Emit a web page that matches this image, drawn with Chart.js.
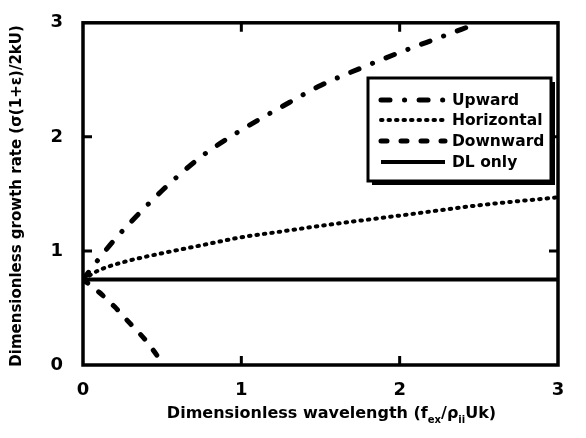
<!DOCTYPE html>
<html>
<head>
<meta charset="utf-8">
<script src="https://cdn.jsdelivr.net/npm/chart.js@4"></script>
<style>
html,body{margin:0;padding:0;background:#fff}
#wrap{width:586px;height:438px}
</style>
</head>
<body>
<div id="wrap"><canvas id="growthChart" width="586" height="438"></canvas></div>
<script>
// series
const upX=[0,0.1,0.2,0.3,0.5,0.75,1.0,1.25,1.5,1.75,2.0,2.25,2.5]
const upY=[0.75,0.93,1.1,1.25,1.53,1.83,2.06,2.26,2.45,2.6,2.74,2.87,3.0]

const horX=[0,0.1,0.25,0.5,0.75,1.0,1.25,1.5,2.0,2.5,3.0]
const horY=[0.75,0.83,0.9,0.98,1.05,1.12,1.17,1.22,1.31,1.4,1.47]

const downX=[0,0.1,0.2,0.3,0.4,0.48]
const downY=[0.75,0.64,0.51,0.36,0.21,0.06]

const dlX=[0,3]
const dlY=[0.75,0.75]

const seriesLabels=["Upward","Horizontal","Downward","DL only"]
const tickValues=[0,1,2,3]

const xTitle=["Dimensionless wavelength (f",{sub:"ex"},"/ρ",{sub:"ii"},"Uk)"]
const yTitle="Dimensionless growth rate (σ(1+ε)/2kU)"

function pts(xs,ys){
return xs.map((x,i)=>({x:x,y:ys[i]}))
}

const FONT="'DejaVu Sans', 'Liberation Sans', sans-serif"

// frame, inward ticks, axis titles, legend box
const decor={
id:"decor",
afterDraw(chart){
const ctx=chart.ctx
const a=chart.chartArea
const xs=chart.scales.x
const ys=chart.scales.y
ctx.save()
ctx.strokeStyle="#000"
ctx.setLineDash([])
ctx.lineWidth=3.5
ctx.strokeRect(a.left,a.top,a.right-a.left,a.bottom-a.top)

// inner ticks
ctx.lineWidth=3
ctx.beginPath()
for(const v of [1,2]){
let px=xs.getPixelForValue(v)
ctx.moveTo(px,a.bottom);ctx.lineTo(px,a.bottom-9)
ctx.moveTo(px,a.top);ctx.lineTo(px,a.top+9)
let py=ys.getPixelForValue(v)
ctx.moveTo(a.left,py);ctx.lineTo(a.left+9,py)
ctx.moveTo(a.right,py);ctx.lineTo(a.right-9,py)
}
ctx.stroke()

// x title with subscripts
ctx.fillStyle="#000"
ctx.textBaseline="alphabetic"
ctx.textAlign="left"
const big="bold 16px "+FONT
const small="bold 10px "+FONT
let w=0
for(const part of xTitle){
ctx.font=typeof part==="string"?big:small
w+=ctx.measureText(typeof part==="string"?part:part.sub).width
}
let cx=(a.left+a.right)/2-w/2+11
const base=418
for(const part of xTitle){
if(typeof part==="string"){
ctx.font=big
ctx.fillText(part,cx,base)
cx+=ctx.measureText(part).width
}else{
ctx.font=small
ctx.fillText(part.sub,cx,base+5)
cx+=ctx.measureText(part.sub).width
}
}

// y title
ctx.save()
ctx.translate(17,(a.top+a.bottom)/2+2)
ctx.rotate(-Math.PI/2)
ctx.textAlign="center"
ctx.textBaseline="middle"
ctx.font="bold 15px "+FONT
ctx.fillText(yTitle,0,0)
ctx.restore()

// legend
const bx=368,by=78,bw=183,bh=103
ctx.fillStyle="#000"
ctx.fillRect(bx+4,by+4,bw,bh)
ctx.fillStyle="#fff"
ctx.fillRect(bx,by,bw,bh)
ctx.lineWidth=3
ctx.strokeRect(bx,by,bw,bh)

const rowY=[100,120,141,162]
chart.data.datasets.forEach((ds,i)=>{
ctx.strokeStyle="#000"
ctx.lineWidth=ds.borderWidth
ctx.lineCap=ds.borderCapStyle||"butt"
ctx.setLineDash(ds.borderDash||[])
ctx.beginPath()
ctx.moveTo(381,rowY[i])
ctx.lineTo(445,rowY[i])
ctx.stroke()
ctx.setLineDash([])
ctx.fillStyle="#000"
ctx.font="bold 15.5px "+FONT
ctx.textAlign="left"
ctx.textBaseline="middle"
ctx.fillText(ds.label,452,rowY[i]+1)
})
ctx.restore()
}
}

const chartCtx=document.getElementById("growthChart").getContext("2d")

const growthChart=new Chart(chartCtx,{
type:"scatter",
data:{
datasets:[{
label:seriesLabels[0],
data:pts(upX,upY),
showLine:true,
borderColor:"#000",
borderWidth:5,
borderDash:[9,14.5,0.1,14.5],
borderCapStyle:"round",
pointRadius:0,
cubicInterpolationMode:"monotone"
},{
label:seriesLabels[1],
data:pts(horX,horY),
showLine:true,
borderColor:"#000",
borderWidth:4,
borderDash:[1.5,6],
borderCapStyle:"round",
pointRadius:0,
cubicInterpolationMode:"monotone"
},{
label:seriesLabels[2],
data:pts(downX,downY),
showLine:true,
borderColor:"#000",
borderWidth:5,
borderDash:[6,14],
borderCapStyle:"round",
pointRadius:0,
cubicInterpolationMode:"monotone"
},{
label:seriesLabels[3],
data:pts(dlX,dlY),
showLine:true,
borderColor:"#000",
borderWidth:4,
pointRadius:0
}]
},
options:{
responsive:false,
animation:false,
layout:{padding:{left:0,top:22,right:28,bottom:0}},
plugins:{legend:{display:false},tooltip:{enabled:false}},
scales:{
x:{
type:"linear",
min:0,max:3,
afterBuildTicks(scale){scale.ticks=tickValues.map(v=>({value:v}))},
afterFit(scale){scale.height=73},
grid:{display:false},
border:{display:false},
ticks:{color:"#000",padding:7,font:{family:FONT,size:18,weight:"bold"}}
},
y:{
type:"linear",
min:0,max:3,
afterBuildTicks(scale){scale.ticks=tickValues.map(v=>({value:v}))},
afterFit(scale){scale.width=83},
grid:{display:false},
border:{display:false},
ticks:{color:"#000",padding:12,font:{family:FONT,size:18,weight:"bold"}}
}
}
},
plugins:[decor]
})
</script>
</body>
</html>
